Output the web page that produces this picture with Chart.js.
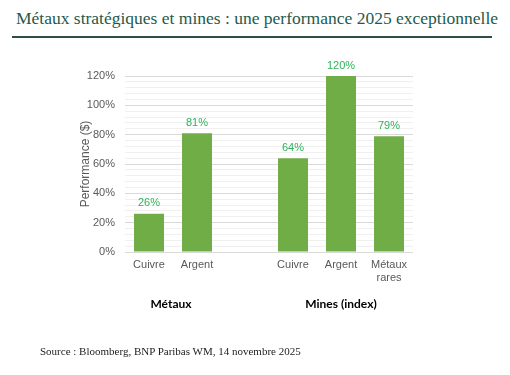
<!DOCTYPE html>
<html>
<head>
<meta charset="utf-8">
<script src="https://cdn.jsdelivr.net/npm/chart.js@4.4.1/dist/chart.umd.min.js"></script>
<style>
  html, body { margin: 0; padding: 0; background: #ffffff; }
  #wrap { position: relative; width: 510px; height: 375px; overflow: hidden; }
  #title { position: absolute; left: 16px; top: 8px; font-family: "Liberation Serif", serif; font-size: 17.5px; color: #1f5a4b; white-space: nowrap; }
  #rule { position: absolute; left: 12px; top: 36px; width: 480px; height: 2px; background: #2f4f46; }
  #source { position: absolute; left: 40px; top: 345px; font-family: "Liberation Serif", serif; font-size: 11px; color: #222; white-space: nowrap; }
  #c { position: absolute; left: 0; top: 0; }
</style>
</head>
<body>
<div id="wrap">
  <div id="title">Métaux stratégiques et mines : une performance 2025 exceptionnelle</div>
  <div id="rule"></div>
  <canvas id="c" width="510" height="375"></canvas>
  <div id="source">Source : Bloomberg, BNP Paribas WM, 14 novembre 2025</div>
</div>
<script>
const categories = ["Cuivre", "Argent", "", "Cuivre", "Argent", ["Métaux", "rares"]];
const performance = [26, 81, null, 64, 120, 79];
const yTicksMajor = [0, 20, 40, 60, 80, 100, 120];
const groupLabels = ["Métaux", "Mines (index)"];

const valueLabels = {
  id: "valueLabels",
  afterDatasetsDraw(chart) {
    const ctx = chart.ctx;
    const meta = chart.getDatasetMeta(0);
    ctx.save();
    ctx.font = "11px 'Liberation Sans', Arial, sans-serif";
    ctx.fillStyle = "#2eb35a";
    ctx.textAlign = "center";
    ctx.textBaseline = "bottom";
    meta.data.forEach((bar, i) => {
      const v = performance[i];
      if (v === null) return;
      ctx.fillText(v + "%", bar.x, bar.y - 5);
    });
    ctx.restore();
  }
};

const groupPlugin = {
  id: "groupPlugin",
  afterDraw(chart) {
    const ctx = chart.ctx;
    const x = chart.scales.x;
    ctx.save();
    ctx.font = "bold 12px Lato, 'Open Sans', sans-serif";
    ctx.fillStyle = "#000";
    ctx.textAlign = "center";
    ctx.textBaseline = "middle";
    const y = 304;
    ctx.fillText(groupLabels[0], (x.getPixelForValue(0) + x.getPixelForValue(1)) / 2 - 2, y);
    ctx.fillText(groupLabels[1], x.getPixelForValue(4), y);
    ctx.restore();
  }
};

new Chart(document.getElementById("c"), {
  type: "bar",
  data: {
    labels: categories,
    datasets: [{
      data: performance,
      backgroundColor: "#70ad47",
      borderWidth: 0,
      barPercentage: 0.625,
      categoryPercentage: 1.0
    }]
  },
  options: {
    responsive: false,
    animation: false,
    layout: { padding: { left: 78, right: 97, top: 76, bottom: 83 } },
    plugins: { legend: { display: false }, tooltip: { enabled: false } },
    scales: {
      x: {
        grid: { display: false, drawTicks: false },
        border: { display: false },
        ticks: { color: "#595959", font: { family: "'Liberation Sans', Arial, sans-serif", size: 11 }, padding: 6, maxRotation: 0, autoSkip: false },
        afterFit(s) { s.height = 40; }
      },
      y: {
        min: 0, max: 120,
        ticks: {
          stepSize: 4,
          autoSkip: false,
          color: "#595959",
          font: { family: "'Liberation Sans', Arial, sans-serif", size: 11 },
          padding: 10,
          callback: (v) => yTicksMajor.includes(v) ? v + "%" : ""
        },
        grid: {
          drawTicks: false,
          color: (c) => (c.tick && yTicksMajor.includes(c.tick.value)) ? "#d9d9d9" : "#f0f0f0",
          lineWidth: 1
        },
        border: { display: false },
        title: { display: true, text: "Performance ($)", color: "#595959", font: { family: "'Liberation Sans', Arial, sans-serif", size: 12 }, padding: 0 },
        afterFit(s) { s.width = 47; }
      }
    }
  },
  plugins: [valueLabels, groupPlugin]
});
</script>
</body>
</html>
